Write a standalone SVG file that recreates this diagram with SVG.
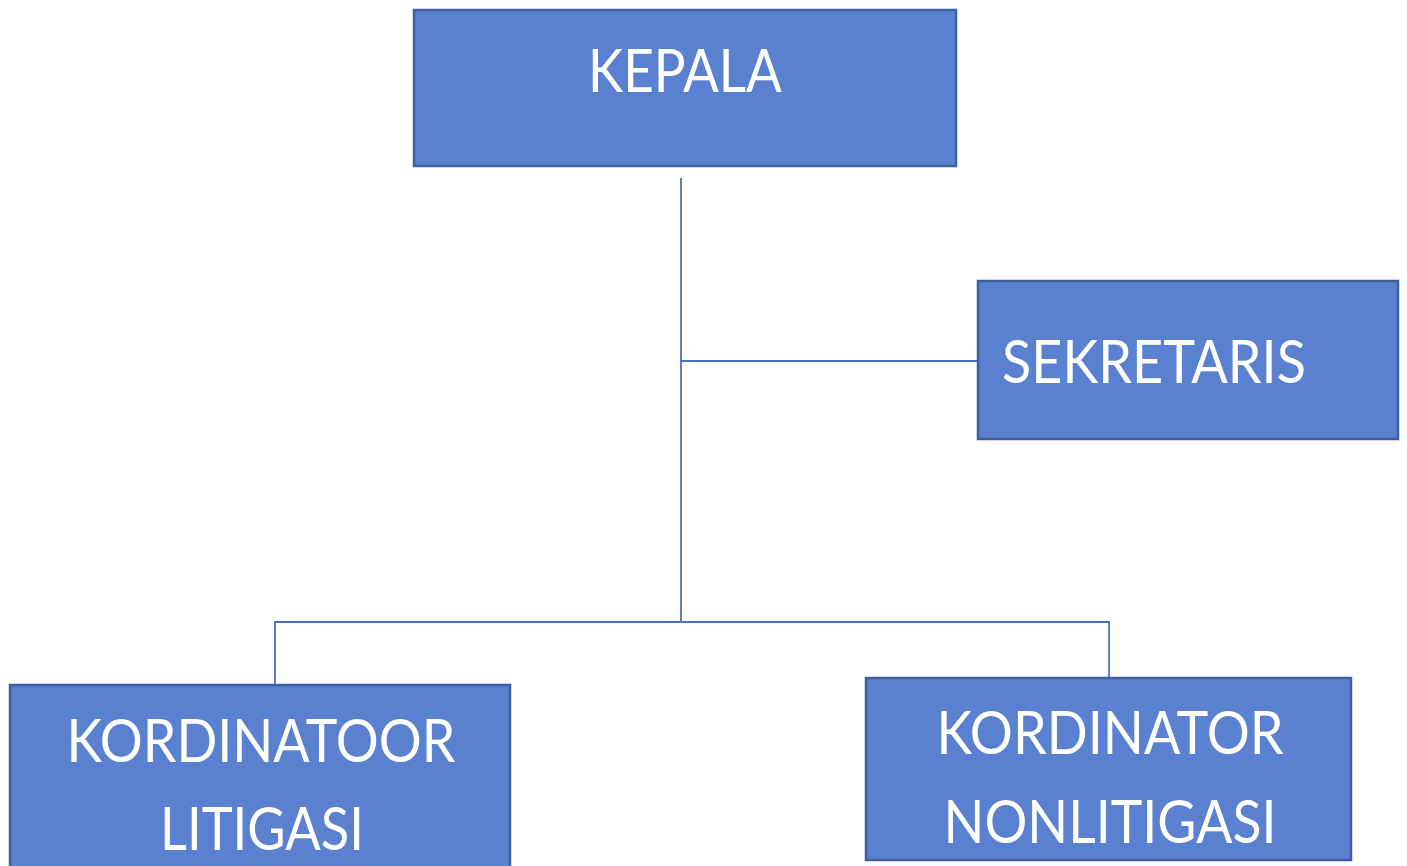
<svg xmlns="http://www.w3.org/2000/svg" width="1407" height="866" viewBox="0 0 1407 866">
<style>
.box{fill:#5A81D0;stroke:#3E5F9E;stroke-width:2.5}
.lbl{font-family:Lato,"Open Sans",sans-serif;font-size:60px;fill:#ffffff;text-anchor:middle}
.con{fill:none;stroke:#4A72C8;stroke-width:1.8}
</style>
<rect width="1407" height="866" fill="#ffffff"/>
<g id="connectors">
<path class="con" d="M681 178 V622"/>
<path class="con" d="M681 361 H978"/>
<path class="con" d="M275 684 V622 H1109 V677"/>
</g>
<g id="kepala">
<rect class="box" x="414" y="10" width="542" height="156"/>
<text class="lbl" x="685" y="92" textLength="194" lengthAdjust="spacingAndGlyphs">KEPALA</text>
</g>
<g id="sekretaris">
<rect class="box" x="978" y="281" width="420" height="158"/>
<text class="lbl" x="1154" y="383" textLength="304" lengthAdjust="spacingAndGlyphs">SEKRETARIS</text>
</g>
<g id="kordinator-litigasi">
<rect class="box" x="10" y="685" width="500" height="190"/>
<text class="lbl" x="261" y="762" textLength="389" lengthAdjust="spacingAndGlyphs">KORDINATOOR</text>
<text class="lbl" x="262" y="850" textLength="204" lengthAdjust="spacingAndGlyphs">LITIGASI</text>
</g>
<g id="kordinator-nonlitigasi">
<rect class="box" x="866" y="678" width="485" height="182"/>
<text class="lbl" x="1110" y="754" textLength="347" lengthAdjust="spacingAndGlyphs">KORDINATOR</text>
<text class="lbl" x="1110" y="843" textLength="333" lengthAdjust="spacingAndGlyphs">NONLITIGASI</text>
</g>
</svg>
